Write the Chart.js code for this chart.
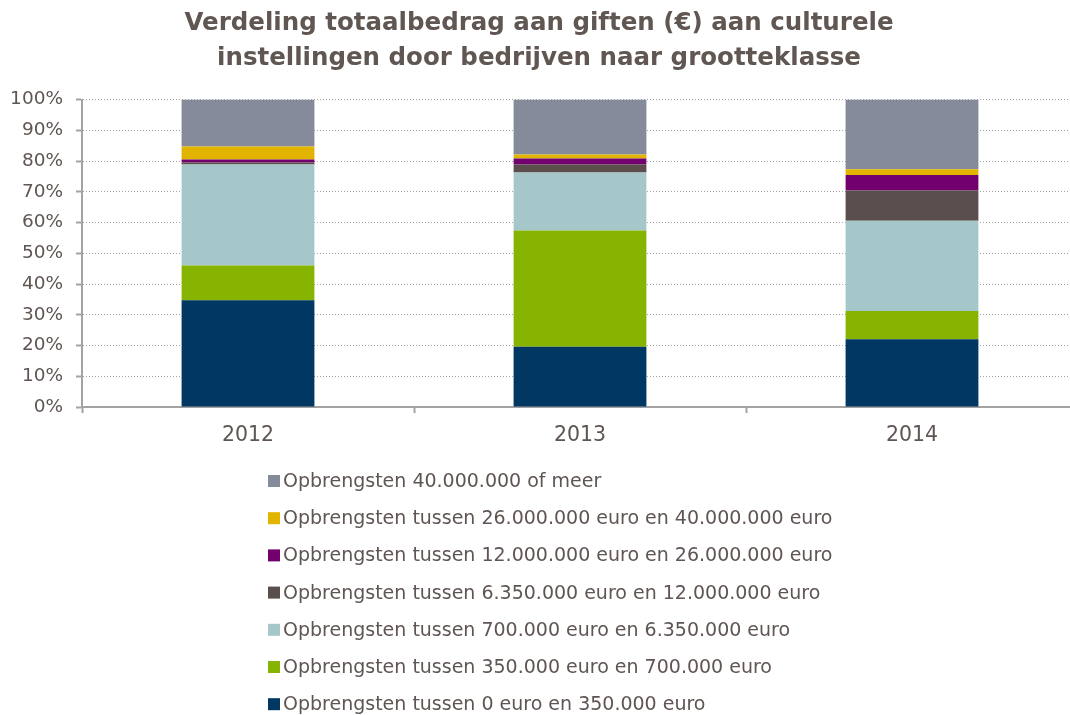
<!DOCTYPE html>
<html>
<head>
<meta charset="utf-8">
<script src="https://cdn.jsdelivr.net/npm/chart.js@4.4.1/dist/chart.umd.min.js"></script>
<style>
  html, body { margin: 0; padding: 0; background: #ffffff; overflow: hidden; }
  #wrap { width: 1080px; height: 715px; }
</style>
</head>
<body>
<div id="wrap"><canvas id="c" width="1080" height="715"></canvas></div>
<script>
// Years on the x axis
const years = ['2012', '2013', '2014'];

// Share (%) of the total gift amount per revenue class, bottom to top
const klasse0_350k     = [34.7, 19.6, 22.0];
const klasse350k_700k  = [11.3, 37.8, 9.2];
const klasse700k_6m35  = [32.9, 18.9, 29.4];
const klasse6m35_12m   = [0.6, 2.6, 9.8];
const klasse12m_26m    = [1.0, 1.9, 5.1];
const klasse26m_40m    = [4.2, 1.3, 1.8];
const klasse40mPlus    = [15.3, 17.9, 22.7];

// Series names
const seriesLabels = [
  'Opbrengsten tussen 0 euro en 350.000 euro',
  'Opbrengsten tussen 350.000 euro en 700.000 euro',
  'Opbrengsten tussen 700.000 euro en 6.350.000 euro',
  'Opbrengsten tussen 6.350.000 euro en 12.000.000 euro',
  'Opbrengsten tussen 12.000.000 euro en 26.000.000 euro',
  'Opbrengsten tussen 26.000.000 euro en 40.000.000 euro',
  'Opbrengsten 40.000.000 of meer'
];

const titleLines = [
  'Verdeling totaalbedrag aan giften (€) aan culturele',
  'instellingen door bedrijven naar grootteklasse'
];

const seriesValues = [klasse0_350k, klasse350k_700k, klasse700k_6m35, klasse6m35_12m, klasse12m_26m, klasse26m_40m, klasse40mPlus];
const seriesColors = ['#003763', '#87b400', '#a6c7c9', '#5a4f4d', '#73006f', '#e2b400', '#858b9b'];

const textColor = '#5f5552';
const axisColor = '#a3a3a3';
const baseFont = 'DejaVu Sans, Verdana, sans-serif';

// Vertical legend under the plot, top series first
const verticalLegend = {
  id: 'verticalLegend',
  afterDraw(chart) {
    const ctx = chart.ctx;
    const ds = chart.data.datasets;
    const x0 = 268, y0 = 481, step = 37.2, box = 12;
    ctx.save();
    ctx.font = '19px ' + baseFont;
    ctx.textBaseline = 'middle';
    ctx.textAlign = 'left';
    for (let i = 0; i < ds.length; i++) {
      const d = ds[ds.length - 1 - i];
      const y = y0 + i * step;
      ctx.fillStyle = d.backgroundColor;
      ctx.fillRect(x0, y - box / 2, box, box);
      ctx.fillStyle = textColor;
      ctx.fillText(d.label, x0 + box + 3, y + 1);
    }
    ctx.restore();
  }
};

new Chart(document.getElementById('c'), {
  type: 'bar',
  data: {
    labels: years,
    datasets: seriesLabels.map((lab, i) => ({
      label: lab,
      data: seriesValues[i],
      backgroundColor: seriesColors[i],
      borderWidth: 0,
      barPercentage: 0.4,
      categoryPercentage: 1.0
    }))
  },
  options: {
    responsive: false,
    animation: false,
    layout: { padding: { left: 0, right: 2, top: 0, bottom: 268 } },
    plugins: {
      legend: { display: false },
      tooltip: { enabled: false },
      title: {
        display: true,
        text: titleLines,
        color: '#605652',
        font: { family: baseFont, size: 24.5, weight: 'bold', lineHeight: 1.42 },
        padding: { top: 6, bottom: 24 }
      }
    },
    scales: {
      x: {
        stacked: true,
        offset: true,
        grid: {
          display: true,
          offset: true,
          drawOnChartArea: false,
          drawTicks: true,
          tickLength: 6,
          tickColor: axisColor,
          tickWidth: 2
        },
        border: { display: true, color: axisColor, width: 2 },
        ticks: { color: textColor, font: { family: baseFont, size: 20.5 }, padding: 10 },
        afterFit(s) { s.height = 40; }
      },
      y: {
        stacked: true,
        min: 0,
        max: 100,
        ticks: {
          stepSize: 10,
          color: textColor,
          font: { family: baseFont, size: 18.5 },
          padding: 13,
          callback: v => v + '%'
        },
        grid: {
          color: axisColor,
          lineWidth: 1,
          tickBorderDash: [],
          drawTicks: true,
          tickLength: 6,
          tickColor: axisColor,
          tickWidth: 2
        },
        border: { display: true, color: axisColor, width: 2, dash: [1, 2] },
        afterFit(s) { s.width = 82; }
      }
    }
  },
  plugins: [verticalLegend]
});
</script>
</body>
</html>
